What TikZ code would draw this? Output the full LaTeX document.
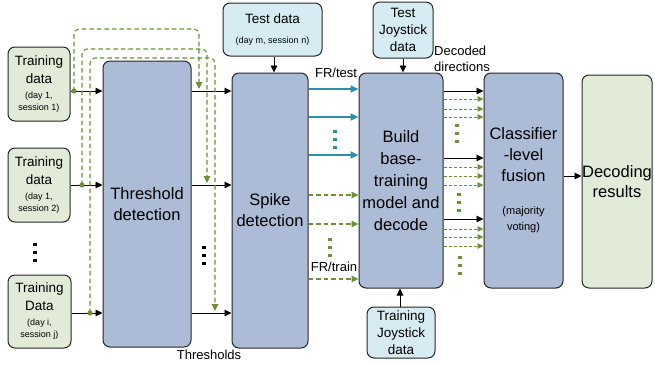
\documentclass[tikz,border=0pt]{standalone}
\usepackage{fontspec}
\setmainfont{Liberation Sans}
\usetikzlibrary{arrows.meta}
\definecolor{boxblue}{RGB}{172,188,214}
\definecolor{boxgreen}{RGB}{226,235,216}
\definecolor{boxcyan}{RGB}{214,236,242}
\definecolor{dgreen}{RGB}{108,145,56}
\definecolor{tealc}{RGB}{46,143,170}
\newcommand\myfs[2]{\fontsize{#1}{#2}\selectfont}
\begin{document}
\begin{tikzpicture}[x=1pt,y=-1pt,
  box/.style={draw=black!85, line width=1pt, rounded corners=7pt, align=center, inner sep=0pt},
  bbox/.style={box, fill=boxblue},
  gbox/.style={box, fill=boxgreen},
  cbox/.style={box, fill=boxcyan},
  arr/.style={-{Triangle[length=7pt,width=6.5pt]}, line width=0.9pt, black},
  tarr/.style={-{Triangle[length=8pt,width=7pt]}, line width=1.8pt, tealc},
  gline/.style={dgreen, dash pattern=on 4.5pt off 3pt, line width=1.1pt, rounded corners=5pt, -{Triangle[length=7pt,width=6.5pt]}},
  gthin/.style={dgreen, dash pattern=on 3pt off 2pt, line width=0.8pt, -{Triangle[length=6pt,width=5.5pt]}},
  lbl/.style={inner sep=0pt, font=\myfs{13}{16}},
  threedots/.pic={\foreach \d in {0,8,16} \fill (-1.7,\d) rectangle ++(3.4,3.4);}
]
\useasboundingbox (0,0) rectangle (655,364);
% training boxes
\node[gbox, minimum width=62pt, minimum height=74pt, font=\myfs{13.5}{18}] (tr1) at (39,84)
  {Training\\data\\[-3pt]\myfs{9}{12}(day 1,\\[-6pt]\myfs{9}{12}session 1)};
\node[gbox, minimum width=62pt, minimum height=74pt, font=\myfs{13.5}{18}] (tr2) at (39,185)
  {Training\\data\\[-3pt]\myfs{9}{12}(day 1,\\[-6pt]\myfs{9}{12}session 2)};
\node[gbox, minimum width=63pt, minimum height=73pt, font=\myfs{13.5}{18}] (trj) at (39.5,311.5)
  {Training\\Data\\[-3pt]\myfs{9}{12}(day i,\\[-6pt]\myfs{9}{12}session j)};
% main boxes
\node[bbox, minimum width=88pt, minimum height=286pt, font=\myfs{16.5}{21}] (thr) at (147,204) {Threshold\\detection};
\node[bbox, minimum width=76pt, minimum height=275pt, font=\myfs{16.5}{21}] (spike) at (270,210.5) {Spike\\detection};
\node[cbox, minimum width=99pt, minimum height=53pt, font=\myfs{13.5}{17}] (test) at (272.5,29.5)
  {Test data\\[3pt]\myfs{9}{12}(day m, session n)};
\node[cbox, minimum width=60pt, minimum height=56pt, font=\myfs{13.5}{17}] (tjoy) at (403,30) {Test\\Joystick\\data};
\node[bbox, minimum width=84pt, minimum height=215pt, font=\myfs{16.5}{22}] (build) at (401,180.5)
  {Build\\base-\\training\\model and\\decode};
\node[cbox, minimum width=68pt, minimum height=51pt, font=\myfs{13.5}{17}] (trjoy) at (401,332.5) {Training\\Joystick\\data};
\node[bbox, minimum width=79pt, minimum height=215pt, font=\myfs{16.5}{21}] (cls) at (523.5,180.5)
  {Classifier\\-level\\fusion\\[12pt]\myfs{11}{15}(majority\\[-5pt]\myfs{11}{15}voting)};
\node[gbox, minimum width=70pt, minimum height=213pt, font=\myfs{16.5}{20}] (dec) at (617,181.5) {Decoding\\results};
% labels
\node[lbl] (frtest) at (336,73) {FR/test};
\node[lbl] (frtrain) at (334,267) {FR/train};
\node[lbl] (thrl) at (209,355) {Thresholds};
\node[lbl, align=left] (decd) at (462,59) {Decoded\\directions};
% coordinates for branching
\coordinate (d1) at (74,91);
\coordinate (d2) at (82,185);
\coordinate (d3) at (90,313);
% training -> threshold
\draw[arr] (tr1.east |- d1) -- (thr.west |- d1);
\draw[arr] (tr2.east |- d2) -- (thr.west |- d2);
\draw[arr] (trj.east |- d3) -- (thr.west |- d3);
% threshold -> spike
\draw[arr] (thr.east |- d1) -- (spike.west |- d1);
\draw[arr] (thr.east |- d2) -- (spike.west |- d2);
\draw[arr] (thr.east |- d3) -- (spike.west |- d3);
% dashed bypass lines
\draw[gline] (d1) -- (74,29) -- (199,29) -- (199,89);
\draw[gline] (d2) -- (82,49) -- (207,49) -- (207,183);
\draw[gline] (d3) -- (90,58) -- (215,58) -- (215,311);
\fill[dgreen] (d1) circle (2.6pt);
\fill[dgreen] (d2) circle (2.6pt);
\fill[dgreen] (d3) circle (2.6pt);
% top inputs
\draw[arr] (test.south -| 274,0) -- (spike.north -| 274,0);
\draw[arr] (tjoy.south) -- (tjoy.south |- build.north);
\draw[arr] (trjoy.north -| 400,0) -- (build.south -| 400,0);
% FR/test
\foreach \y in {89,117,155} \draw[tarr] (spike.east |- 0,\y) -- (build.west |- 0,\y);
% FR/train
\foreach \y in {195,224,279} \draw[gline] (spike.east |- 0,\y) -- (build.west |- 0,\y);
% decoded directions
\foreach \y in {91,158,219} \draw[arr] (build.east |- 0,\y) -- (cls.west |- 0,\y);
\foreach \y in {99,109,117,167,176,185,229,237,246} \draw[gthin] (build.east |- 0,\y) -- (cls.west |- 0,\y);
% fusion -> results
\draw[arr] (cls.east |- 0,176) -- (dec.west |- 0,176);
% dots
\pic[black] at (35,243) {threedots};
\pic[black] at (204,246) {threedots};
\pic[tealc] at (335,130) {threedots};
\pic[dgreen] at (330,238) {threedots};
\pic[dgreen] at (457,124) {threedots};
\pic[dgreen] at (459,193) {threedots};
\pic[dgreen] at (460,256) {threedots};
\end{tikzpicture}
\end{document}
